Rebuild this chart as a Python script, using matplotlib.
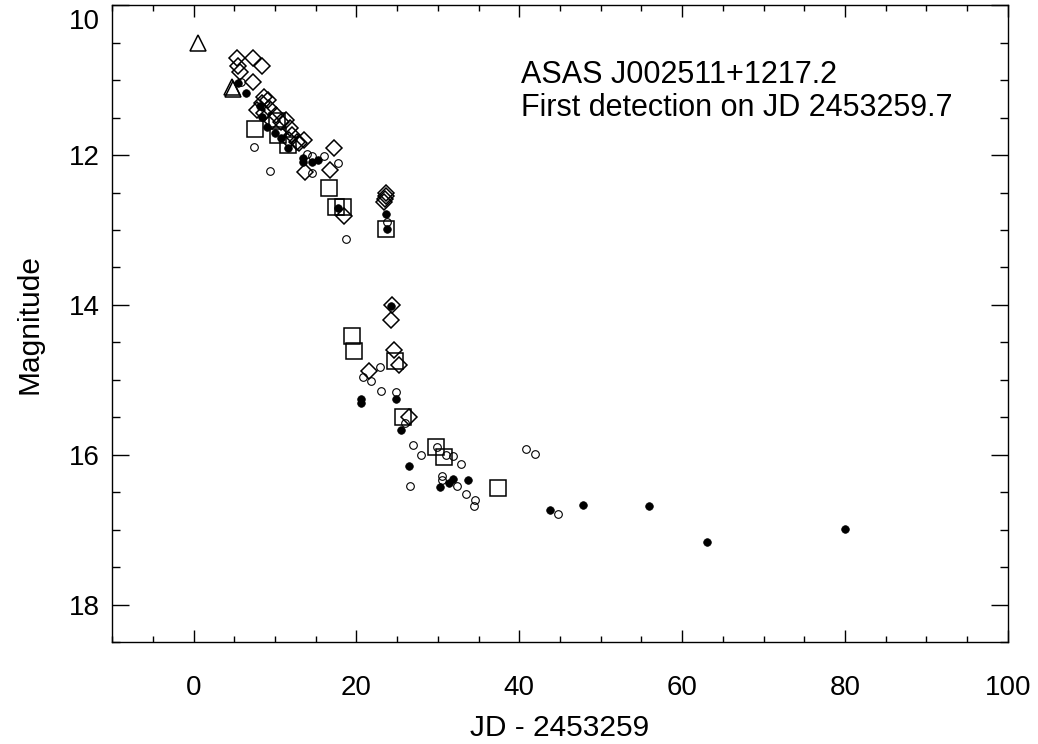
import matplotlib.pyplot as plt
import matplotlib.transforms as mtransforms
from matplotlib.ticker import MultipleLocator, FuncFormatter

plt.rcParams['font.family'] = ['Liberation Sans', 'DejaVu Sans']

# light curve, days after JD 2453259, one array pair per marker style
tri_jd = [0.6, 4.7, 4.9]
tri_mag = [10.50, 11.09, 11.12]

sq_jd = [7.6, 10.2, 10.4, 11.6, 16.65, 17.5, 18.4, 23.6, 19.4, 19.7,
         24.7, 25.7, 29.8, 30.7, 37.4]
sq_mag = [11.65, 11.55, 11.73, 11.86, 12.44, 12.69, 12.69, 12.99, 14.41, 14.62,
          14.75, 15.49, 15.89, 16.03, 16.45]

dia_jd = [5.3, 7.3, 8.4, 5.5, 5.7, 7.3,
          8.6, 9.1, 8.4, 7.8, 9.3, 8.7, 10.1, 10.8, 11.4, 11.8, 12.1, 12.7,
          13.0, 11.7, 9.6, 13.6,
          13.7, 17.3, 16.7,
          23.6, 23.6, 23.5, 23.4, 18.45,
          24.4, 24.3, 24.6, 25.2, 21.6, 26.5]
dia_mag = [10.70, 10.70, 10.81, 10.81, 10.89, 11.02,
           11.22, 11.26, 11.30, 11.40, 11.37, 11.44, 11.46, 11.56, 11.53, 11.64, 11.73, 11.82,
           11.84, 11.80, 11.55, 11.80,
           12.22, 11.91, 12.20,
           12.50, 12.55, 12.59, 12.63, 12.81,
           14.00, 14.20, 14.60, 14.80, 14.88, 15.49]

fill_jd = [5.5, 6.5, 8.1, 8.4, 9.0, 10.0, 10.8, 11.6, 13.4, 13.4, 14.6, 15.3,
           17.8, 23.6, 23.8, 24.3, 20.6, 20.6, 24.9, 25.5, 26.4, 30.3, 31.8,
           31.4, 33.7, 43.8, 47.8, 55.9, 63.1, 79.95]
fill_mag = [11.04, 11.17, 11.35, 11.49, 11.62, 11.70, 11.77, 11.90, 12.04, 12.09, 12.09, 12.06,
            12.70, 12.79, 12.99, 14.02, 15.25, 15.31, 15.25, 15.67, 16.15, 16.43, 16.33,
            16.38, 16.34, 16.74, 16.67, 16.68, 17.17, 16.99]

open_jd = [5.8, 7.4, 9.4, 13.9, 14.6, 16.0, 17.7, 14.6, 18.7, 23.8, 22.9, 20.8,
           21.8, 23.0, 24.9, 26.0, 27.0, 27.9, 29.9, 31.0, 31.9, 32.9, 26.6,
           30.5, 30.5, 32.4, 33.5, 34.6, 34.4, 40.8, 41.9, 44.7]
open_mag = [11.02, 11.89, 12.21, 11.99, 12.01, 12.01, 12.10, 12.24, 13.12, 12.89, 14.83, 14.96,
            15.02, 15.15, 15.16, 15.58, 15.87, 16.00, 15.89, 16.00, 16.02, 16.12, 16.42,
            16.29, 16.34, 16.42, 16.52, 16.61, 16.69, 15.92, 15.99, 16.79]

fig = plt.figure(figsize=(10.38, 7.44), dpi=100)
ax = fig.add_axes([0.108, 0.137, 0.863, 0.856])

ax.plot(dia_jd, dia_mag, 'D', ms=8, mfc='none', mec='black', mew=1.1, ls='none')
ax.plot(sq_jd, sq_mag, 's', ms=11, mfc='none', mec='black', mew=1.1, ls='none')
ax.plot(tri_jd, tri_mag, '^', ms=11, mfc='none', mec='black', mew=1.1, ls='none')
ax.plot(open_jd, open_mag, 'o', ms=5.5, mfc='none', mec='black', mew=0.8, ls='none')
ax.plot(fill_jd, fill_mag, 'o', ms=5.5, mfc='black', mec='black', mew=0.5, ls='none')

ymin_top = 10
ax.set_xlim(-10, 100)
ax.set_ylim(18.5, ymin_top)
ax.xaxis.set_major_locator(MultipleLocator(20))
ax.xaxis.set_minor_locator(MultipleLocator(5))
ax.yaxis.set_major_locator(MultipleLocator(2))
ax.yaxis.set_minor_locator(MultipleLocator(0.5))
# the label at the frame's top edge is drawn separately, a little lower
ax.yaxis.set_major_formatter(FuncFormatter(lambda v, p: '' if v == ymin_top else f'{v:.0f}'))

ax.tick_params(which='both', direction='in', top=True, right=True, width=1, colors='black')
ax.tick_params(axis='x', which='major', length=8.6, pad=24, labelsize=20)
ax.tick_params(axis='x', which='minor', length=4.3)
ax.tick_params(axis='y', which='major', length=12, pad=9, labelsize=20)
ax.tick_params(axis='y', which='minor', length=5.8)
for sp in ax.spines.values():
    sp.set_linewidth(1)

top_lbl = mtransforms.offset_copy(ax.get_yaxis_transform(), fig=fig, x=-9, y=-12, units='points')
ax.text(0, ymin_top, f'{ymin_top}', transform=top_lbl, fontsize=20, ha='right', va='center')

ax.set_xlabel('JD - 2453259', fontsize=21.5, labelpad=9)
ax.set_ylabel('Magnitude', fontsize=21.5, labelpad=18)

ax.text(40.2, 11.15, 'ASAS J002511+1217.2\nFirst detection on JD 2453259.7',
        fontsize=22, ha='left', va='center', linespacing=1.15)

fig.savefig('out.png', dpi=100)
